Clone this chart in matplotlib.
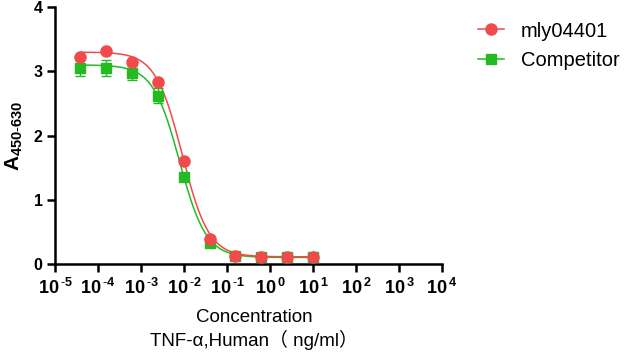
import numpy as np
import matplotlib
matplotlib.use("Agg")
import matplotlib.pyplot as plt
from matplotlib.ticker import FixedLocator, FuncFormatter, NullLocator

plt.rcParams['font.family'] = ['Liberation Sans', 'Noto Sans CJK SC', 'DejaVu Sans']
plt.rcParams['mathtext.fontset'] = 'custom'
plt.rcParams['mathtext.rm'] = 'Liberation Sans'
plt.rcParams['mathtext.bf'] = 'Liberation Sans:bold'

# 4-fold dilution series (ng/ml)
conc = [3.81e-5, 1.53e-4, 6.10e-4, 2.44e-3, 9.77e-3, 3.91e-2, 0.156, 0.625, 2.5, 10.0]

mly_vals = [3.23, 3.31, 3.15, 2.84, 1.61, 0.38, 0.12, 0.11, 0.11, 0.11]
mly_err = [0.02, 0.02, 0.02, 0.03, 0.03, 0.02, 0.01, 0.01, 0.01, 0.01]

comp_vals = [3.05, 3.05, 2.98, 2.62, 1.35, 0.32, 0.12, 0.10, 0.10, 0.10]
comp_err = [0.13, 0.12, 0.11, 0.12, 0.04, 0.03, 0.01, 0.01, 0.01, 0.01]

# 4PL fit parameters (top, bottom, EC50, hill)
mly_fit = (3.30, 0.11, 0.0090, 1.4)
comp_fit = (3.10, 0.10, 0.0078, 1.4)

red = '#f04a4c'
green = '#22bb22'


def four_pl(x, top, bottom, ec50, hill):
    return bottom + (top - bottom) / (1 + (x / ec50) ** hill)


def decade_label(v, pos):
    k = int(round(np.log10(v)))
    if k < 0:
        return r'$\mathbf{10}^{\,\mathbf{{\text{-}}%d}}$' % abs(k)
    return r'$\mathbf{10}^{\,\mathbf{%d}}$' % k


fig = plt.figure(figsize=(6.27, 3.59), dpi=100)
ax = fig.add_axes([0.088, 0.265, 0.617, 0.715])

xs = np.logspace(np.log10(conc[0]), np.log10(conc[-1]), 300)
ax.plot(xs, four_pl(xs, *comp_fit), color=green, lw=1.1, zorder=2)
ax.plot(xs, four_pl(xs, *mly_fit), color=red, lw=1.1, zorder=2)

ax.errorbar(conc, comp_vals, yerr=comp_err, fmt='s', color=green, ms=7,
            capsize=3.5, elinewidth=1, zorder=3)
ax.errorbar(conc, mly_vals, yerr=mly_err, fmt='o', color=red, ms=8,
            capsize=3, elinewidth=1, zorder=4)

ax.set_xscale('log')
ax.set_xlim(1e-5, 1e4)
ax.set_ylim(0, 4)
ax.xaxis.set_major_locator(FixedLocator([10.0 ** k for k in range(-5, 5)]))
ax.xaxis.set_minor_locator(NullLocator())
ax.xaxis.set_major_formatter(FuncFormatter(decade_label))
ax.set_yticks([0, 1, 2, 3, 4])

for s in ['top', 'right']:
    ax.spines[s].set_visible(False)
for s in ['left', 'bottom']:
    ax.spines[s].set_linewidth(1.8)
ax.tick_params(axis='both', width=1.8, length=6)
ax.tick_params(axis='x', labelsize=13, pad=4)
ax.tick_params(axis='y', labelsize=11.5, pad=3)
for lab in ax.get_yticklabels():
    lab.set_fontweight('bold')

ax.set_ylabel(r'$\mathbf{A_{450\text{-}630}}$', fontsize=15, labelpad=6)
fig.text(0.405, 1 - 309 / 359, 'Concentration\nTNF-α,Human（ ng/ml）',
         ha='center', va='top', fontsize=13.5, linespacing=1.25)

h1, = ax.plot([], [], '-o', color=red, ms=8, lw=1.1)
h2, = ax.plot([], [], '-s', color=green, ms=7, lw=1.1)
fig.legend([h1, h2], ['mly04401', 'Competitor'], loc='upper left',
           bbox_to_anchor=(0.762, 0.94), frameon=False, fontsize=14.5,
           handlelength=1.3, handletextpad=0.85, labelspacing=0.5,
           borderpad=0, borderaxespad=0)

fig.savefig('out.png', dpi=100)
